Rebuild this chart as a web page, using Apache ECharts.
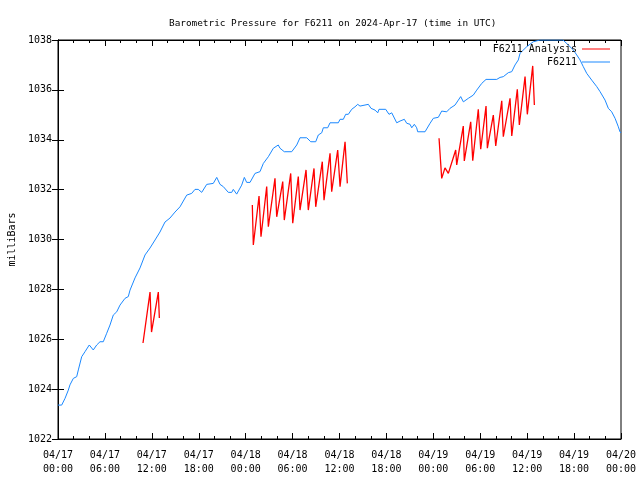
<!DOCTYPE html>
<html>
<head>
<meta charset="utf-8">
<script src="https://cdn.jsdelivr.net/npm/echarts@6/dist/echarts.min.js"></script>
<style>html,body{margin:0;padding:0;background:#fff}#c{width:640px;height:480px}</style>
</head>
<body>
<div id="c"></div>
<script>
// hours since 2024-04-17 00:00 UTC
var stationT = [0,0.47,0.90,1.32,1.53,1.96,2.39,2.60,3.03,3.45,4.00,4.51,4.95,5.37,5.79,6.23,6.65,7.07,7.51,7.93,8.57,8.99,9.21,9.85,10.49,11.13,11.77,12.41,13.04,13.68,14.32,14.96,15.60,16.46,17.10,17.52,17.94,18.38,19.02,19.86,20.30,20.72,21.14,21.78,22.22,22.42,22.85,23.49,23.83,24.13,24.56,25.19,25.83,26.26,26.90,27.54,28.17,28.39,28.94,29.89,30.53,30.95,31.81,32.32,32.96,33.29,33.73,33.93,34.49,34.79,35.85,36.07,36.49,36.79,37.13,37.56,37.98,38.33,38.62,38.84,39.69,40.03,40.54,40.89,41.05,41.91,42.33,42.68,43.32,43.74,43.96,44.29,44.60,45.02,45.24,45.57,45.87,46.00,46.94,47.58,48.00,48.64,49.07,49.28,49.71,50.13,50.77,51.20,51.50,51.84,52.05,52.47,53.11,53.55,54.19,54.74,56.11,56.53,56.95,57.59,58.03,58.45,58.87,59.09,59.94,60.79,61.64,62.92,64.58,65.26,65.90,66.34,66.76,67.18,67.62,68.26,68.90,69.32,69.96,70.38,70.81,71.24,71.66,71.87,72.0];
var stationP = [1023.36,1023.36,1023.63,1023.96,1024.17,1024.43,1024.50,1024.77,1025.30,1025.50,1025.77,1025.57,1025.77,1025.90,1025.90,1026.24,1026.57,1026.97,1027.10,1027.37,1027.64,1027.71,1027.97,1028.46,1028.86,1029.38,1029.66,1029.98,1030.30,1030.70,1030.86,1031.10,1031.31,1031.78,1031.85,1032.01,1032.01,1031.89,1032.21,1032.25,1032.49,1032.21,1032.12,1031.89,1031.89,1032.01,1031.82,1032.18,1032.49,1032.29,1032.29,1032.65,1032.72,1033.05,1033.32,1033.66,1033.79,1033.66,1033.52,1033.52,1033.79,1034.08,1034.08,1033.92,1033.92,1034.19,1034.28,1034.48,1034.48,1034.68,1034.68,1034.82,1034.82,1035.02,1035.02,1035.22,1035.32,1035.42,1035.35,1035.42,1035.42,1035.26,1035.19,1035.08,1035.22,1035.22,1035.02,1035.08,1034.68,1034.75,1034.68,1034.82,1034.66,1034.62,1034.48,1034.62,1034.48,1034.32,1034.32,1034.66,1034.86,1034.90,1035.15,1035.22,1035.12,1035.26,1035.39,1035.59,1035.73,1035.52,1035.46,1035.66,1035.79,1035.99,1036.26,1036.42,1036.42,1036.50,1036.53,1036.69,1036.73,1037.00,1037.20,1037.47,1037.73,1037.93,1038.0,1038.0,1038.0,1037.80,1037.60,1037.40,1037.20,1036.93,1036.66,1036.39,1036.13,1035.93,1035.59,1035.26,1035.12,1034.86,1034.52,1034.32,1034.27];

// analysis runs, three groups
var analysisT1 = [10.87,11.77,11.96,12.83,12.96];
var analysisP1 = [1025.85,1027.89,1026.29,1027.89,1026.85];
var analysisT2 = [24.85,24.98,25.71,25.96,26.69,26.90,27.75,27.97,28.74,28.94,29.76,30.02,30.73,30.95,31.72,32.01,32.74,32.96,33.80,34.02,34.79,35.00,35.77,36.07,36.71,37.00];
var analysisP2 = [1031.38,1029.78,1031.74,1030.11,1032.12,1030.51,1032.45,1030.91,1032.32,1030.78,1032.65,1030.65,1032.52,1031.18,1032.79,1031.18,1032.85,1031.31,1033.12,1031.58,1033.46,1031.92,1033.59,1032.12,1033.92,1032.25];
var analysisT3 = [48.73,49.07,49.49,49.92,50.86,50.99,51.83,51.96,52.78,53.04,53.75,54.06,54.74,54.91,55.67,55.98,56.75,56.95,57.81,58.03,58.74,59.00,59.73,60.02,60.71,60.92];
var analysisP3 = [1034.06,1032.45,1032.87,1032.65,1033.59,1032.99,1034.55,1033.15,1034.72,1033.16,1035.22,1033.62,1035.35,1033.66,1034.99,1033.75,1035.56,1034.12,1035.66,1034.15,1036.02,1034.59,1036.53,1035.02,1036.96,1035.39];

var xTickLabels = ['04/17\n00:00','04/17\n06:00','04/17\n12:00','04/17\n18:00','04/18\n00:00','04/18\n06:00','04/18\n12:00','04/18\n18:00','04/19\n00:00','04/19\n06:00','04/19\n12:00','04/19\n18:00','04/20\n00:00'];

var FONT = 'DejaVu Sans Mono';

function pairs(t, p) { return t.map(function (v, i) { return [v, p[i]]; }); }
var redData = pairs(analysisT1, analysisP1).concat([[null, null]], pairs(analysisT2, analysisP2), [[null, null]], pairs(analysisT3, analysisP3));
var blueData = pairs(stationT, stationP);

var chart = echarts.init(document.getElementById('c'), null, {renderer: 'canvas'});
var tickStyle = {show: true, inside: true, length: 6, lineStyle: {color: '#000', width: 1}};
var minorStyle = {show: true, splitNumber: 3, length: 3, lineStyle: {color: '#000', width: 1}};
chart.setOption({
  animation: false,
  backgroundColor: '#fff',
  title: {
    text: 'Barometric Pressure for F6211 on 2024-Apr-17 (time in UTC)',
    left: 164, top: 14,
    textStyle: {fontFamily: FONT, fontSize: 9.4, fontWeight: 'normal', color: '#000'}
  },
  legend: [
    {data: ['F6211 Analysis'], right: 30, top: 44, icon: 'rect', itemWidth: 28, itemHeight: 1,
     textStyle: {fontFamily: FONT, fontSize: 10, color: '#000'}, align: 'right', padding: 0},
    {data: ['F6211'], right: 30, top: 57, icon: 'rect', itemWidth: 28, itemHeight: 1,
     textStyle: {fontFamily: FONT, fontSize: 10, color: '#000'}, align: 'right', padding: 0}
  ],
  grid: {left: 58, right: 19, top: 40, bottom: 41, show: true, borderColor: '#000', borderWidth: 1,
         containLabel: false, outerBoundsMode: 'none'},
  xAxis: [{
    type: 'value', min: 0, max: 72, interval: 6,
    axisLine: {show: true, lineStyle: {color: '#000'}},
    axisTick: tickStyle, minorTick: minorStyle,
    splitLine: {show: false},
    axisLabel: {
      fontFamily: FONT, fontSize: 10, color: '#000', margin: 9, lineHeight: 14,
      hideOverlap: false,
      formatter: function (v) { return xTickLabels[Math.round(v / 6)]; }
    }
  }, {
    type: 'value', min: 0, max: 72, interval: 6, position: 'top',
    axisLine: {show: true, lineStyle: {color: '#000'}},
    axisTick: tickStyle, minorTick: minorStyle,
    splitLine: {show: false}, axisLabel: {show: false}
  }],
  yAxis: [{
    type: 'value', min: 1022, max: 1038, interval: 2,
    name: 'milliBars', nameLocation: 'middle', nameGap: 41, nameRotate: 90,
    nameTextStyle: {fontFamily: FONT, fontSize: 10, color: '#000'},
    axisLine: {show: true, lineStyle: {color: '#000'}},
    axisTick: tickStyle, splitLine: {show: false},
    axisLabel: {fontFamily: FONT, fontSize: 10, color: '#000', margin: 6,
      formatter: function (v) { return String(v); }}
  }, {
    type: 'value', min: 1022, max: 1038, interval: 2, position: 'right',
    axisLine: {show: true, lineStyle: {color: '#000'}},
    axisTick: tickStyle, splitLine: {show: false}, axisLabel: {show: false}
  }],
  series: [
    {name: 'F6211 Analysis', type: 'line', data: redData, showSymbol: false, symbol: 'none',
     connectNulls: false, color: '#ff0000', lineStyle: {color: '#ff0000', width: 1.3}, z: 3},
    {name: 'F6211', type: 'line', data: blueData, showSymbol: false, symbol: 'none',
     color: '#1a88ff', lineStyle: {color: '#1a88ff', width: 1}, z: 2}
  ]
});
</script>
</body>
</html>
